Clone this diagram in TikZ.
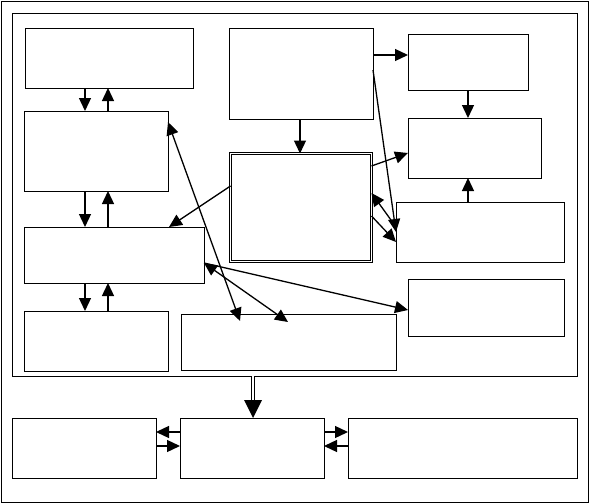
\documentclass[tikz,border=0pt]{standalone}
\usetikzlibrary{arrows.meta}
\begin{document}
\begin{tikzpicture}[x=1pt,y=-1pt,
  box/.style={draw, line width=0.8pt, inner sep=0pt, outer sep=0pt, anchor=north west},
  dbox/.style={draw, double, double distance=1.6pt, line width=0.6pt, inner sep=0pt, outer sep=0pt, anchor=north west},
  arr/.style={line width=1.3pt, -{Triangle[length=13pt,width=12pt]}},
  darr/.style={line width=1.3pt, {Triangle[length=13pt,width=12pt]}-{Triangle[length=13pt,width=12pt]}}]
\useasboundingbox (0,0) rectangle (589,503);
% frames
\node[box, minimum width=587pt, minimum height=501pt] (outer) at (1,1) {};
\node[box, minimum width=565pt, minimum height=363pt] (frame) at (12,13) {};
% boxes
\node[box, minimum width=168pt, minimum height=60pt] (A) at (25,28) {};
\node[box, minimum width=144pt, minimum height=80pt] (B) at (24,111) {};
\node[box, minimum width=180pt, minimum height=56pt] (C) at (24,227) {};
\node[box, minimum width=144pt, minimum height=60pt] (D) at (24,311) {};
\node[box, minimum width=215pt, minimum height=56pt] (E) at (181,314) {};
\node[box, minimum width=144pt, minimum height=91pt] (F) at (229,28) {};
\node[dbox, minimum width=141pt, minimum height=108pt] (G) at (230.5,153.5) {};
\node[box, minimum width=120pt, minimum height=56pt] (H) at (408,34) {};
\node[box, minimum width=133pt, minimum height=60pt] (I) at (408,118) {};
\node[box, minimum width=168pt, minimum height=60pt] (J) at (396,202) {};
\node[box, minimum width=156pt, minimum height=57pt] (K) at (408,279) {};
\node[box, minimum width=144pt, minimum height=60pt] (L) at (12,418) {};
\node[box, minimum width=144pt, minimum height=60pt] (M) at (180,418) {};
\node[box, minimum width=229pt, minimum height=60pt] (N) at (348,418) {};
% vertical pairs on the left
\draw[arr] (85,0 |- A.south) -- (85,0 |- B.north);
\draw[arr] (108,0 |- B.north) -- (108,0 |- A.south);
\draw[arr] (85,0 |- B.south) -- (85,0 |- C.north);
\draw[arr] (108,0 |- C.north) -- (108,0 |- B.south);
\draw[arr] (85,0 |- C.south) -- (85,0 |- D.north);
\draw[arr] (108,0 |- D.north) -- (108,0 |- C.south);
% right part
\draw[arr] (F.east |- 0,55) -- (H.west |- 0,55);
\draw[arr] (300,0 |- F.south) -- (300,0 |- G.north);
\draw[arr] (468,0 |- H.south) -- (468,0 |- I.north);
\draw[arr] (468,0 |- J.north) -- (468,0 |- I.south);
\draw[arr] (F.east |- 0,70) -- (J.west |- 0,232);
\draw[arr] (G.east |- 0,166) -- (I.west |- 0,153);
\draw[arr] (J.west |- 0,227) -- (G.east |- 0,193);
\draw[arr] (G.east |- 0,216) -- (J.west |- 0,242);
\draw[arr] (G.west |- 0,186) -- (169,0 |- C.north);
% long crossing lines
\coordinate (e1) at (240,321);
\coordinate (e2) at (288,322);
\draw[darr] (B.east |- 0,122) -- (e1);
\draw[darr] (C.east |- 0,263) -- (e2);
\draw[arr] (C.east |- 0,263) -- (K.west |- 0,310);
% frame to M
\coordinate (mtop) at (253,0 |- M.north);
\draw[double, double distance=1.8pt, line width=0.7pt] (253,0 |- frame.south) -- (253,401);
\fill (244,400) -- (262,400) -- (mtop) -- cycle;
% bottom row
\draw[arr] (M.west |- 0,432) -- (L.east |- 0,432);
\draw[arr] (L.east |- 0,446) -- (M.west |- 0,446);
\draw[arr] (M.east |- 0,432) -- (N.west |- 0,432);
\draw[arr] (N.west |- 0,446) -- (M.east |- 0,446);
\end{tikzpicture}
\end{document}
